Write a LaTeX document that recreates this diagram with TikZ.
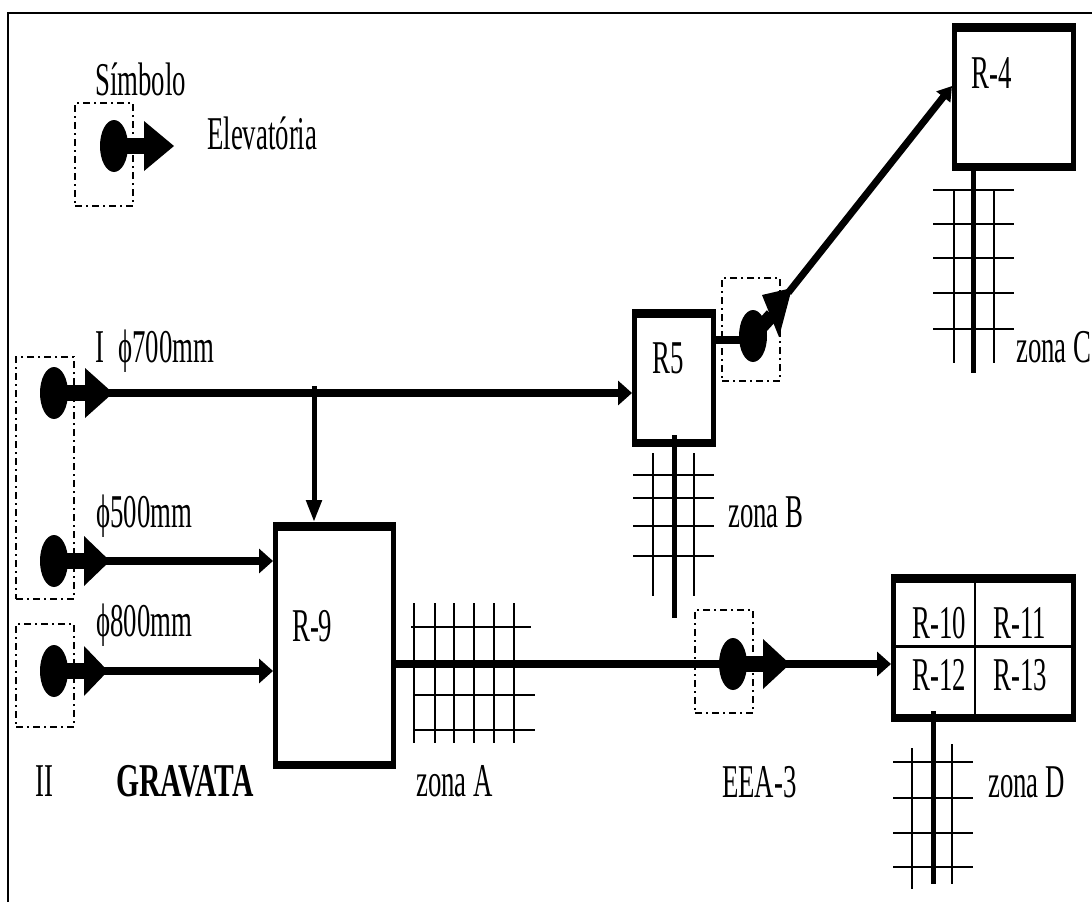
\documentclass[tikz,border=0pt]{standalone}
\usepackage{fontspec}
\setmainfont[FakeStretch=0.57, BoldFeatures={FakeStretch=0.63}]{Liberation Serif}
\usepackage{tikz}
\usetikzlibrary{shapes.geometric, arrows.meta, positioning, calc}
\tikzset{
    rotulo/.style={anchor=base west, inner sep=0pt, font=\fontsize{47}{50}\selectfont},
    caixa/.style={draw, line width=1.5pt, dash pattern=on 7pt off 4pt on 2pt off 4pt, minimum width=58pt},
    bomba/.style={shape=ellipse, fill=black, inner sep=0pt, minimum width=28pt, minimum height=52pt},
    reservatorio/.style={draw, line width=5pt, inner sep=0pt},
    adutora/.style={line width=8pt},
    malha/.style={line width=1.8pt},
    ponta/.style={-{Triangle[length=14pt,width=24pt]}, shorten <=-14pt},
}

\begin{document}
\begin{tikzpicture}[x=1pt, y=-1pt]
    \useasboundingbox (0,0) rectangle (1092,902);
    \draw[line width=1.6pt] (8,902) -- (8,13) -- (1092,13);

    % caixas das elevatorias
    \node[caixa, minimum height=103pt] (caixaS) at (104,154.5) {};
    \node[caixa, minimum height=242pt] (caixaI) at (45,478) {};
    \node[caixa, minimum height=103pt] (caixaII) at (45,675.5) {};
    \node[caixa, minimum height=103pt] (caixaE) at (724,661.5) {};
    \node[caixa, minimum height=103pt] (caixaR) at (751,329.5) {};

    % reservatorios
    \node[reservatorio, minimum width=118pt, minimum height=242pt] (r9) at (334.5,645.5) {};
    \node[reservatorio, minimum width=79pt, minimum height=133pt] (r5) at (674,378) {};
    \node[reservatorio, minimum width=119pt, minimum height=143pt] (r4) at (1014,97) {};
    \node[reservatorio, minimum width=180pt, minimum height=143pt] (rD) at (983.5,648) {};
    \foreach \r in {r9, r5, r4, rD} {
        \fill (\r.north west) rectangle ([yshift=-9pt]\r.north east);
        \fill (\r.south west) rectangle ([yshift=8pt]\r.south east);
    }
    \draw[line width=1.5pt] (975,574) -- (975,722);
    \draw[line width=3pt] (rD.west) ++(0,-2) -- ([yshift=2pt]rD.east);

    % malhas das zonas
    \foreach \x in {414,435,454,474,494,514}
        \draw[malha] (\x,603) -- (\x,743);
    \draw[malha] (411,627) -- (531,627);
    \foreach \y in {695,730}
        \draw[malha] (414,\y) -- (535,\y);

    \foreach \x in {653,694}
        \draw[malha] (\x,453) -- (\x,596);
    \foreach \y in {475,498,526,556}
        \draw[malha] (633,\y) -- (714,\y);

    \foreach \x in {954,994}
        \draw[malha] (\x,190) -- (\x,363);
    \foreach \y in {190,224,258,293,329}
        \draw[malha] (933,\y) -- (1014,\y);

    \draw[malha] (912,748) -- (912,889);
    \draw[malha] (952,744) -- (952,884);
    \foreach \y in {762,798,833,867}
        \draw[malha] (893,\y) -- (973,\y);

    % bombas
    \foreach \n/\x/\y/\b/\t in {S/114/146/144/174, I/54/393/85/113, II/54/561/84/110, III/54/671/84/108, E/733/664/763/790} {
        \node[bomba] (b\n) at (\x,\y) {};
        \draw[line width=16pt] (b\n.center) -- (\b,\y);
        \fill (\b,\y-25) -- (\t,\y) -- (\b,\y+25) -- cycle;
        \coordinate (p\n) at (\t,\y);
    }
    \node[bomba] (bR) at (753,336) {};
    \coordinate (pR) at (792,288);
    \draw[line width=14pt] (bR.center) -- (772,315);
    \fill (pR) -- (762,295) -- (779,337) -- cycle;

    % adutoras
    \coordinate (ramal) at (314,386);
    \draw[adutora, ponta] (pI) -- (pI -| r5.west);
    \draw[adutora, ponta] (pII) -- (pII -| r9.west);
    \draw[adutora, ponta] (pIII) -- (pIII -| r9.west);
    \draw[line width=5pt, -{Triangle[length=22pt,width=15pt]}] (ramal) -- (ramal |- r9.north);
    \draw[adutora] (bE -| r9.east) -- (bE);
    \draw[adutora, ponta] (pE) -- (pE -| rD.west);
    \draw[adutora] (bR -| r5.east) ++(0,4) -- ++(30,0);
    \draw[line width=7pt, shorten <=-6pt, -{Triangle[length=14pt,width=17pt]}] (pR) -- ([yshift=11pt]r4.west);

    % ramais de distribuicao
    \draw[line width=5pt] (r5.south) ++(0,-12) -- (674,618);
    \draw[line width=5pt] (973,165) -- (973,373);
    \draw[line width=5pt] (933,711) -- (933,884);

    % textos
    \node[rotulo] (simbolo) at (95,95) {Símbolo};
    \node[rotulo] (elevatoria) at (207,149) {Elevatória};
    \node[rotulo] (tR4) at (971,88) {R-4};
    \node[rotulo] (tR5) at (652,373) {R5};
    \node[rotulo] (tR9) at (292,641) {R-9};
    \node[rotulo] (tR10) at (912,638) {R-10};
    \node[rotulo] (tR11) at (993,638) {R-11};
    \node[rotulo] (tR12) at (912,690) {R-12};
    \node[rotulo] (tR13) at (993,690) {R-13};
    \node[rotulo] (um) at (95,362) {I};
    \node[rotulo] (d700) at (118,362) {ϕ700mm};
    \node[rotulo] (d500) at (96,527) {ϕ500mm};
    \node[rotulo] (d800) at (96,636) {ϕ800mm};
    \node[rotulo] (dois) at (35,796) {II};
    \node[rotulo, font=\fontsize{47}{50}\selectfont\bfseries] (gravata) at (116,796) {GRAVATA};
    \node[rotulo] (zonaA) at (416,796) {zona A};
    \node[rotulo] (eea) at (722,797) {EEA-3};
    \node[rotulo] (zonaB) at (728,527) {zona B};
    \node[rotulo] (zonaC) at (1016,362) {zona C};
    \node[rotulo] (zonaD) at (988,797) {zona D};
\end{tikzpicture}
\end{document}
